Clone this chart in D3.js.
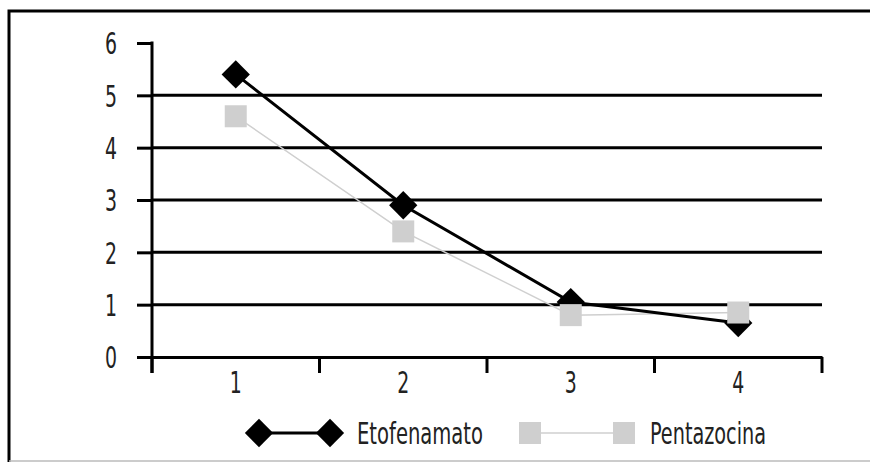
<!DOCTYPE html>
<html>
<head>
<meta charset="utf-8">
<script src="https://cdn.jsdelivr.net/npm/d3@7"></script>
<style>
  body { margin: 0; background: #fff; }
  text { font-family: "DejaVu Sans Condensed", "Liberation Sans Narrow", sans-serif; font-stretch: condensed; fill: #222; }
</style>
</head>
<body>
<div id="chart"></div>
<script>
var categories = ["1", "2", "3", "4"];
var etofenamato = [5.4, 2.9, 1.05, 0.65];
var pentazocina = [4.6, 2.4, 0.8, 0.85];
var yTicks = [0, 1, 2, 3, 4, 5, 6];
var seriesNames = ["Etofenamato", "Pentazocina"];

var svgWidth = 870;
var svgHeight = 462;

var margin = { top: 43, right: 48, bottom: 105, left: 152 };
var width = svgWidth - margin.left - margin.right;
var height = svgHeight - margin.top - margin.bottom;

var svg = d3.select("#chart")
  .append("svg")
  .attr("width", svgWidth)
  .attr("height", svgHeight);

// frame (no right edge, light bottom edge)
svg.append("path")
  .attr("d", "M9,462 L9,11 L870,11")
  .attr("fill", "none")
  .attr("stroke", "#000")
  .attr("stroke-width", 3);
svg.append("line")
  .attr("x1", 9).attr("x2", 870)
  .attr("y1", 461).attr("y2", 461)
  .attr("stroke", "#bbb")
  .attr("stroke-width", 1.5);

var chartGroup = svg.append("g")
  .attr("transform", `translate(${margin.left}, ${margin.top})`);

var xBand = d3.scaleBand()
  .domain(categories)
  .range([0, width]);

var yLinearScale = d3.scaleLinear()
  .domain([0, 6])
  .range([height, 0]);

// squeeze text to look like the narrow font of the original
function narrow(sel, perChar) {
  sel.each(function () {
    var t = d3.select(this);
    t.attr("textLength", t.text().length * perChar)
      .attr("lengthAdjust", "spacingAndGlyphs");
  });
}

// y axis with tick marks
var leftAxis = d3.axisLeft(yLinearScale)
  .tickValues(yTicks)
  .tickSize(15)
  .tickPadding(20)
  .tickFormat(d3.format("d"));

var yAxis = chartGroup.append("g").call(leftAxis);
yAxis.select(".domain").remove();
yAxis.selectAll("line").attr("stroke", "#000").attr("stroke-width", 3);
yAxis.selectAll("text").style("font-size", "30px").attr("dy", "0.36em").call(narrow, 12);

// gridlines
chartGroup.append("g")
  .selectAll("line")
  .data(yTicks.filter(d => d > 0 && d < 6))
  .enter()
  .append("line")
  .attr("x1", 0)
  .attr("x2", width)
  .attr("y1", d => yLinearScale(d))
  .attr("y2", d => yLinearScale(d))
  .attr("stroke", "#000")
  .attr("stroke-width", 3);

// y axis line
chartGroup.append("line")
  .attr("x1", 0).attr("x2", 0)
  .attr("y1", yLinearScale(6) - 1.5).attr("y2", height + 16)
  .attr("stroke", "#000")
  .attr("stroke-width", 3);

// x axis
var bottomAxis = d3.axisBottom(xBand).tickSize(0).tickPadding(15);
var xAxis = chartGroup.append("g")
  .attr("transform", `translate(0, ${height})`)
  .call(bottomAxis);
xAxis.select(".domain").attr("stroke", "#000").attr("stroke-width", 3);
xAxis.selectAll("text").style("font-size", "30px").call(narrow, 12);

// x tick marks between categories
var bounds = categories.map(c => xBand(c)).concat([width]);
chartGroup.append("g")
  .selectAll("line")
  .data(bounds)
  .enter()
  .append("line")
  .attr("x1", d => d)
  .attr("x2", d => d)
  .attr("y1", height)
  .attr("y2", height + 16)
  .attr("stroke", "#000")
  .attr("stroke-width", 3);

var xc = c => xBand(c) + xBand.bandwidth() / 2;

var line = d3.line()
  .x((d, i) => xc(categories[i]))
  .y(d => yLinearScale(d));

// Pentazocina
chartGroup.append("path")
  .datum(pentazocina)
  .attr("d", line)
  .attr("fill", "none")
  .attr("stroke", "#cfcfcf")
  .attr("stroke-width", 1.5);

// Etofenamato
chartGroup.append("path")
  .datum(etofenamato)
  .attr("d", line)
  .attr("fill", "none")
  .attr("stroke", "#000")
  .attr("stroke-width", 3);

var diamond = d3.symbol().type(d3.symbolSquare).size(400);

chartGroup.selectAll(".eto")
  .data(etofenamato)
  .enter()
  .append("path")
  .attr("class", "eto")
  .attr("d", diamond)
  .attr("transform", (d, i) => `translate(${xc(categories[i])}, ${yLinearScale(d)}) rotate(45)`)
  .attr("fill", "#000");

chartGroup.selectAll(".pen")
  .data(pentazocina)
  .enter()
  .append("rect")
  .attr("class", "pen")
  .attr("x", (d, i) => xc(categories[i]) - 11)
  .attr("y", d => yLinearScale(d) - 11)
  .attr("width", 22)
  .attr("height", 22)
  .attr("fill", "#cfcfcf");

// legend
var legend = svg.append("g").attr("transform", "translate(0, 433)");

legend.append("line")
  .attr("x1", 259).attr("x2", 330)
  .attr("y1", 0).attr("y2", 0)
  .attr("stroke", "#000").attr("stroke-width", 3);
legend.selectAll(".ld")
  .data([259, 330])
  .enter()
  .append("path")
  .attr("d", diamond)
  .attr("transform", d => `translate(${d}, 0) rotate(45)`)
  .attr("fill", "#000");
legend.append("text")
  .attr("x", 357)
  .attr("y", 0)
  .attr("dy", "0.36em")
  .style("font-size", "30px")
  .attr("textLength", 126)
  .attr("lengthAdjust", "spacingAndGlyphs")
  .text(seriesNames[0]);

legend.append("line")
  .attr("x1", 530).attr("x2", 624)
  .attr("y1", 0).attr("y2", 0)
  .attr("stroke", "#cfcfcf").attr("stroke-width", 1.5);
legend.selectAll(".lp")
  .data([530, 624])
  .enter()
  .append("rect")
  .attr("x", d => d - 11)
  .attr("y", -11)
  .attr("width", 22)
  .attr("height", 22)
  .attr("fill", "#cfcfcf");
legend.append("text")
  .attr("x", 650)
  .attr("y", 0)
  .attr("dy", "0.36em")
  .style("font-size", "30px")
  .attr("textLength", 116)
  .attr("lengthAdjust", "spacingAndGlyphs")
  .text(seriesNames[1]);
</script>
</body>
</html>
